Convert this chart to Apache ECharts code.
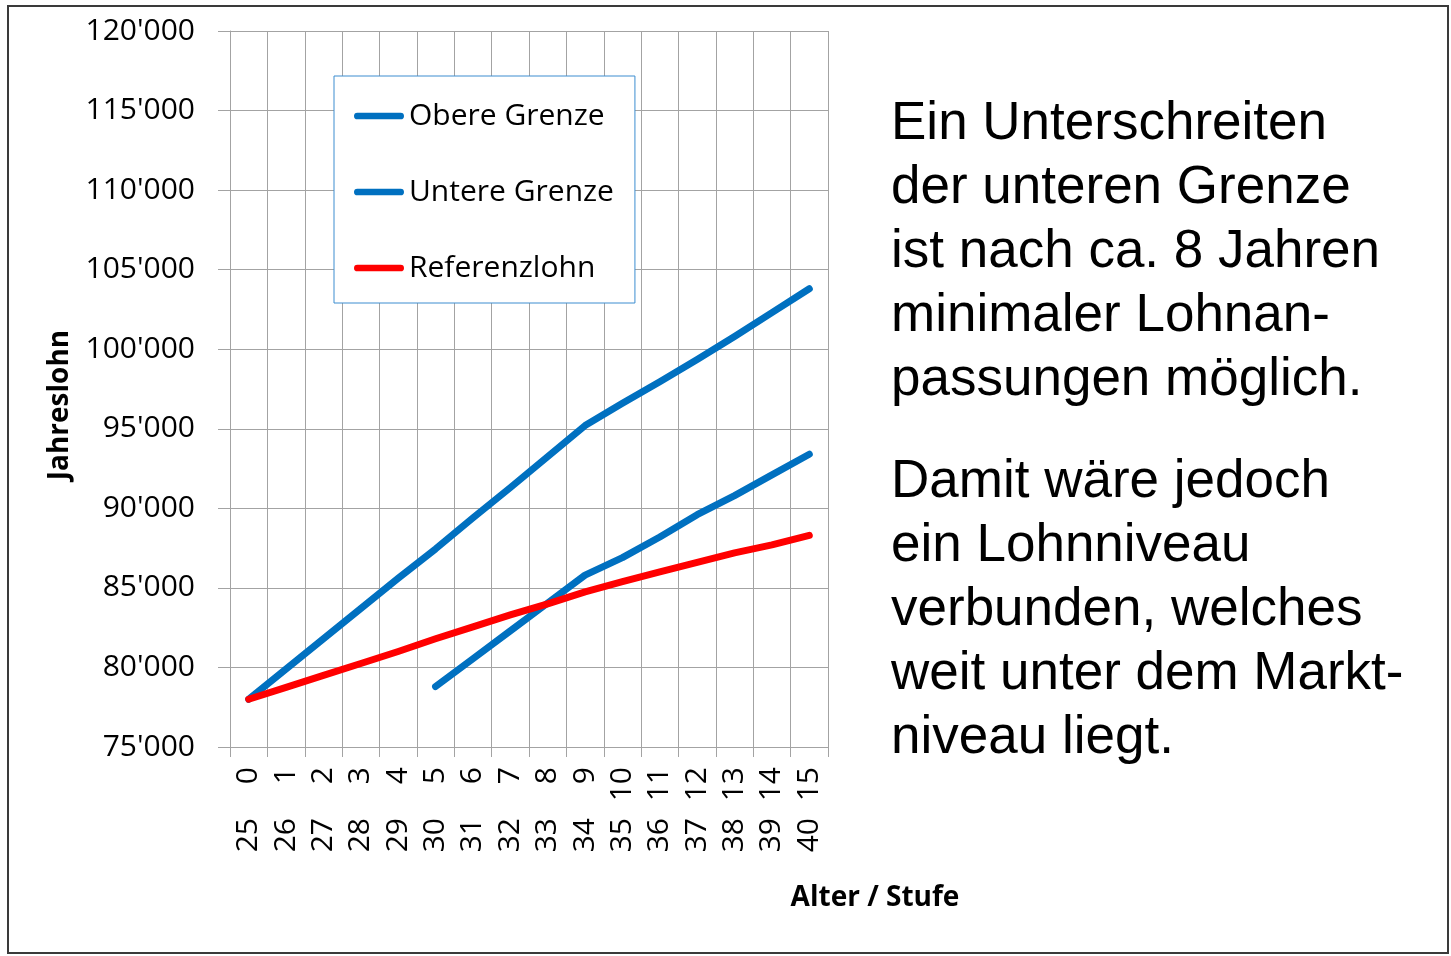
<!DOCTYPE html>
<html>
<head>
<meta charset="utf-8">
<title>Jahreslohn nach Alter / Stufe</title>
<script src="https://cdn.jsdelivr.net/npm/echarts@6.0.0/dist/echarts.min.js"></script>
<style>
  html, body { margin: 0; padding: 0; background: #fff; }
  #chart { width: 1451px; height: 956px; }
</style>
</head>
<body>
<div id="chart"></div>
<script>
// Kategorien: Stufe (obere Zeile) und Alter (untere Zeile)
var stufen = ["0", "1", "2", "3", "4", "5", "6", "7", "8", "9", "10", "11", "12", "13", "14", "15"];
var alter = ["25", "26", "27", "28", "29", "30", "31", "32", "33", "34", "35", "36", "37", "38", "39", "40"];

var obereGrenze = [78000, 79900, 81800, 83700, 85600, 87450, 89400, 91300, 93250, 95200, 96600, 97950, 99350, 100800, 102300, 103800];
var untereGrenze = [null, null, null, null, null, 78800, 80550, 82300, 84050, 85800, 86900, 88200, 89600, 90800, 92100, 93400];
var referenzlohn = [78000, 78750, 79500, 80250, 81000, 81800, 82550, 83300, 84000, 84750, 85400, 86000, 86600, 87200, 87700, 88300];

var yMin = 75000, yMax = 120000, yStep = 5000;

var text1 = ["Ein Unterschreiten", "der unteren Grenze", "ist nach ca. 8 Jahren", "minimaler Lohnan-", "passungen möglich."];
var text2 = ["Damit wäre jedoch", "ein Lohnniveau", "verbunden, welches", "weit unter dem Markt-", "niveau liegt."];

var FONT = "Open Sans";
var gridColor = "#a3a3a3";
// dicke Linie mit runden Enden als Legendensymbol
var lineIcon = "path://M3.5,0 L48.5,0 A3.5,3.5 0 0 1 48.5,7 L3.5,7 A3.5,3.5 0 0 1 3.5,0 Z";

var chart = echarts.init(document.getElementById("chart"));

function lineSeries(name, data, color) {
    return {
        name: name,
        type: "line",
        data: data,
        symbol: "none",
        connectNulls: false,
        lineStyle: { color: color, width: 7, cap: "round", join: "round" },
        itemStyle: { color: color },
        emphasis: { disabled: true },
        z: 3
    };
}

var option = {
    animation: false,
    backgroundColor: "#fff",
    grid: { left: 230, right: 623, top: 31, bottom: 209 },
    legend: {
        orient: "vertical",
        left: 334,
        top: 76,
        padding: [25, 21, 20, 20],
        icon: lineIcon,
        itemWidth: 50,
        itemHeight: 7,
        itemGap: 46,
        backgroundColor: "#fff",
        borderColor: "#3c8dd0",
        borderWidth: 1,
        textStyle: { fontFamily: FONT, fontSize: 30, color: "#000", lineHeight: 30 },
        data: ["Obere Grenze", "Untere Grenze", "Referenzlohn"]
    },
    xAxis: [
        {
            type: "category",
            data: stufen,
            boundaryGap: true,
            axisLine: { lineStyle: { color: gridColor, width: 1 } },
            axisTick: { show: true, length: 10, lineStyle: { color: gridColor } },
            splitLine: { show: true, lineStyle: { color: gridColor, width: 1 } },
            axisLabel: { rotate: 90, margin: 20, fontFamily: FONT, fontSize: 30, color: "#000", interval: 0 }
        },
        {
            type: "category",
            data: alter,
            position: "bottom",
            boundaryGap: true,
            axisLine: { show: false },
            axisTick: { show: false },
            splitLine: { show: false },
            axisLabel: { rotate: 90, margin: 71, fontFamily: FONT, fontSize: 30, color: "#000", interval: 0 }
        }
    ],
    yAxis: {
        type: "value",
        min: yMin,
        max: yMax,
        interval: yStep,
        name: "Jahreslohn",
        nameLocation: "middle",
        nameGap: 156,
        nameTextStyle: { fontFamily: FONT, fontSize: 28, fontWeight: "bold", color: "#000", padding: [0, 32, 0, 0] },
        axisLine: { show: true, lineStyle: { color: gridColor, width: 1 } },
        axisTick: { show: true, length: 12, lineStyle: { color: gridColor } },
        splitLine: { show: true, lineStyle: { color: gridColor, width: 1 } },
        axisLabel: {
            margin: 35,
            fontFamily: FONT,
            fontSize: 30,
            color: "#000",
            formatter: function (v) {
                return String(v).replace(/\B(?=(\d{3})+(?!\d))/g, "'");
            }
        }
    },
    series: [
        lineSeries("Obere Grenze", obereGrenze, "#0070c0"),
        lineSeries("Untere Grenze", untereGrenze, "#0070c0"),
        lineSeries("Referenzlohn", referenzlohn, "#ff0000")
    ],
    graphic: [
        {
            type: "rect",
            shape: { x: 8, y: 6, width: 1440, height: 947 },
            style: { fill: null, stroke: "#3a3a3a", lineWidth: 2 },
            silent: true
        },
        {
            type: "text",
            x: 875,
            y: 898,
            style: {
                text: "Alter / Stufe",
                font: "bold 28px '" + FONT + "'",
                fill: "#000",
                align: "center",
                verticalAlign: "middle"
            }
        },
        {
            type: "text",
            x: 891,
            y: 92,
            style: {
                text: text1.join("\n"),
                font: "53px 'Liberation Sans'",
                lineHeight: 64,
                fill: "#000",
                align: "left",
                verticalAlign: "top"
            }
        },
        {
            type: "text",
            x: 891,
            y: 450,
            style: {
                text: text2.join("\n"),
                font: "53px 'Liberation Sans'",
                lineHeight: 64,
                fill: "#000",
                align: "left",
                verticalAlign: "top"
            }
        }
    ]
};

chart.setOption(option);
</script>
</body>
</html>
